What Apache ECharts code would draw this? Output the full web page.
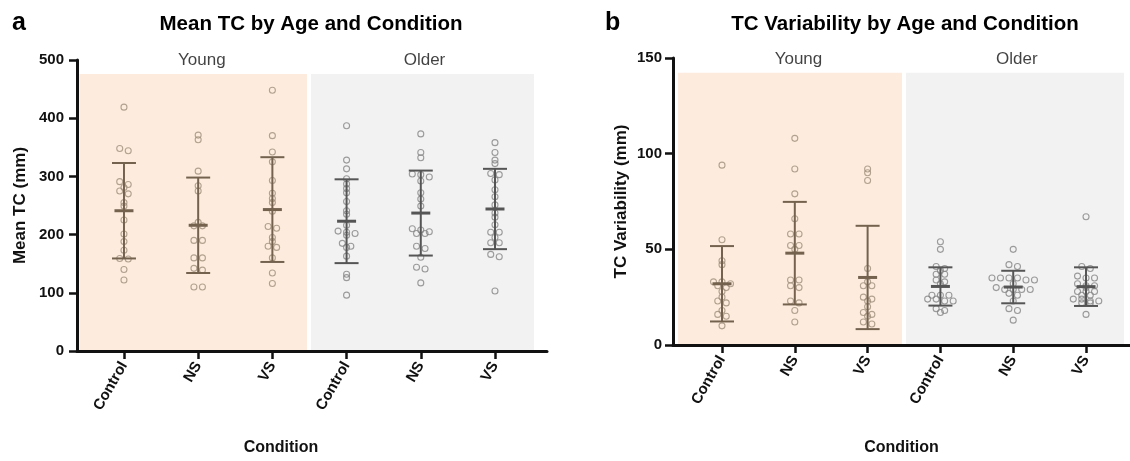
<!DOCTYPE html>
<html><head><meta charset="utf-8">
<script src="https://cdn.jsdelivr.net/npm/echarts@6/dist/echarts.min.js"></script>
<style>html,body{margin:0;padding:0;background:#fff}#c{width:1130px;height:461px}</style>
</head><body><div id="c"></div>
<script>
// ---------- data ----------
const categories = ['Control', 'NS', 'VS', 'Control', 'NS', 'VS'];
const ageGroups = ['Young', 'Older'];

// Panel a: Mean TC (mm), individual participants
const tcYoungControl = [419,348,344,291,286,281,275,270,255,249,225,201,188,173,159,158,140,122];
const tcYoungNS      = [371,363,309,284,275,221,215,215,190,190,160,160,142,139,110,110];
const tcYoungVS      = [448,370,342,325,293,271,262,255,240,214,211,195,188,180,178,160,134,116];
const tcOlderControl = [387,328,313,296,287,279,272,257,241,235,216,206,204,202,199,185,180,178,163,132,126,96];
const tcOlderNS      = [373,341,332,304,303,299,292,272,261,249,210,208,205,202,202,180,176,161,144,141,117];
const tcOlderVS      = [358,341,328,322,305,303,294,277,265,251,237,230,217,204,204,195,186,186,166,162,103];
const tcMean = [241, 216, 243, 223, 237, 244];
const tcSD   = [82, 82, 90, 72, 73, 69];

// Panel b: TC Variability (mm)
const varYoungControl = [94,55,44,42,33,33,32,31,30,28,25,23,22,18,16,15,10];
const varYoungNS      = [108,92,79,66,58,58,52,52,50,34,34,31,30,23,22,18,12];
const varYoungVS      = [92,90,86,40,33,31,31,25,24,23,20,17,16,15,12,11];
const varOlderControl = [54,50,41,40,39,37,37,34,33,32,26,26,26,24,24,23,23,19,18,17];
const varOlderNS      = [50,42,41,35,35,35,35,34,34,32,30,29,29,29,29,27,26,23,19,18,13];
const varOlderVS      = [67,41,40,36,35,35,32,31,31,30,28,28,28,26,26,24,24,23,23,22,22,16];
const varMean = [32, 48, 35.3, 30.6, 30.3, 30.5];
const varSD   = [19.7, 26.8, 27, 10, 8.5, 10.1];

const yTicksA = [0, 100, 200, 300, 400, 500];
const yTicksB = [0, 50, 100, 150];

// ---------- chart ----------
const W = 1130, H = 461;
const FONT = '"Liberation Sans", Arial, Helvetica, sans-serif';
const BLACK = '#111';
const COL = {
  youngBg: '#fdecdd', olderBg: '#f2f2f2',
  youngPt: '#a08e7c', olderPt: '#858585',
  youngBar: '#74624f', olderBar: '#555555'
};

const panels = [
  { grid: {left: 77, right: 583, top: 60, bottom: 103}, xMin: 0.367, xMax: 6.701,
    yTicks: yTicksA, yName: 'Mean TC (mm)', yNameGap: 48.5, labelMargin: 13, xNameGap: 89, xNamePad: [0, 62, 0, 0],
    bgTop: 476, bgXs: [[0.40, 3.466], [3.52, 6.526]],
    groups: [tcYoungControl, tcYoungNS, tcYoungVS, tcOlderControl, tcOlderNS, tcOlderVS],
    mean: tcMean, sd: tcSD },
  { grid: {left: 673, right: 0, top: 58, bottom: 109}, xMin: 0.327, xMax: 6.604,
    yTicks: yTicksB, yName: 'TC Variability (mm)', yNameGap: 43.5, labelMargin: 11, xNameGap: 95, xNamePad: [0, 0, 0, 0],
    bgTop: 142.3, bgXs: [[0.396, 3.473], [3.527, 6.522]],
    groups: [varYoungControl, varYoungNS, varYoungVS, varOlderControl, varOlderNS, varOlderVS],
    mean: varMean, sd: varSD }
];

// simple row-based beeswarm (jitter derived from values)
function swarm(vals, xc, pxPerX, pxPerY) {
  const sorted = vals.slice().sort((a, b) => b - a);
  const out = [];
  const binPx = 3.2, stepPx = 8.5;
  let i = 0;
  while (i < sorted.length) {
    const row = [sorted[i]];
    let j = i + 1;
    while (j < sorted.length && (sorted[i] - sorted[j]) * pxPerY < binPx) { row.push(sorted[j]); j++; }
    const n = row.length;
    row.forEach((v, k) => out.push([xc + (k - (n - 1) / 2) * stepPx / pxPerX, v]));
    i = j;
  }
  return out;
}

const xAxes = [], yAxes = [], grids = [], series = [];
panels.forEach((p, pi) => {
  const yMax = p.yTicks[p.yTicks.length - 1];
  const interval = p.yTicks[1] - p.yTicks[0];
  grids.push(p.grid);
  const gw = W - p.grid.left - p.grid.right, gh = H - p.grid.top - p.grid.bottom;
  const pxPerX = gw / (p.xMax - p.xMin), pxPerY = gh / yMax;
  xAxes.push({
    type: 'value', gridIndex: pi, min: p.xMin, max: p.xMax, z: 10,
    name: 'Condition', nameLocation: 'middle', nameGap: p.xNameGap,
    nameTextStyle: {fontFamily: FONT, fontSize: 16, fontWeight: 'bold', color: BLACK, padding: p.xNamePad},
    axisLine: {show: true, onZero: false, lineStyle: {color: BLACK, width: 3}},
    axisTick: {show: true, length: 8, lineStyle: {color: BLACK, width: 2.5}, customValues: [1,2,3,4,5,6]},
    axisLabel: {show: true, rotate: 60, margin: 12, fontFamily: FONT, fontSize: 15, fontWeight: 'bold', color: BLACK,
      customValues: [1,2,3,4,5,6], formatter: v => categories[Math.round(v) - 1] || ''},
    splitLine: {show: false}
  });
  yAxes.push({
    type: 'value', gridIndex: pi, min: 0, max: yMax, interval: interval, z: 10,
    name: p.yName, nameLocation: 'middle', nameGap: p.yNameGap,
    nameTextStyle: {fontFamily: FONT, fontSize: 17, fontWeight: 'bold', color: BLACK},
    axisLine: {show: true, lineStyle: {color: BLACK, width: 3}},
    axisTick: {show: true, length: 8, lineStyle: {color: BLACK, width: 2.5}},
    axisLabel: {margin: p.labelMargin, fontFamily: FONT, fontSize: 15, fontWeight: 'bold', color: BLACK},
    splitLine: {show: false}
  });
  // backgrounds + group labels
  series.push({
    type: 'scatter', xAxisIndex: pi, yAxisIndex: pi, z: 1, silent: true,
    symbolSize: 0,
    data: ageGroups.map((g, gi) => ({value: [2.05 + gi * 3, p.bgTop], name: g})),
    label: {show: true, position: 'top', distance: 5, formatter: '{b}', fontFamily: FONT, fontSize: 17, color: '#111'},
    markArea: {silent: true, data: [
      [{xAxis: p.bgXs[0][0], yAxis: 0, itemStyle: {color: COL.youngBg}}, {xAxis: p.bgXs[0][1], yAxis: p.bgTop}],
      [{xAxis: p.bgXs[1][0], yAxis: 0, itemStyle: {color: COL.olderBg}}, {xAxis: p.bgXs[1][1], yAxis: p.bgTop}]
    ]}
  });
  // points
  ageGroups.forEach((g, gi) => {
    let pts = [];
    for (let c = 0; c < 3; c++) {
      const idx = gi * 3 + c;
      pts = pts.concat(swarm(p.groups[idx], idx + 1, pxPerX, pxPerY));
    }
    series.push({
      type: 'scatter', xAxisIndex: pi, yAxisIndex: pi, z: 3, silent: true,
      symbol: 'circle', symbolSize: 6,
      itemStyle: {color: 'rgba(0,0,0,0)', borderColor: gi === 0 ? COL.youngPt : COL.olderPt, borderWidth: 1.1},
      data: pts
    });
  });
  // mean ± SD bars
  ageGroups.forEach((g, gi) => {
    const color = gi === 0 ? COL.youngBar : COL.olderBar;
    series.push({
      type: 'custom', xAxisIndex: pi, yAxisIndex: pi, z: 4, silent: true,
      data: [0, 1, 2].map(c => { const idx = gi * 3 + c; return [idx + 1, p.mean[idx], p.sd[idx]]; }),
      renderItem: (params, api) => {
        const x = api.value(0), m = api.value(1), s = api.value(2);
        const cm = api.coord([x, m]), ct = api.coord([x, m + s]), cb = api.coord([x, Math.max(0, m - s)]);
        const cap = 12, mh = 9.5;
        return {type: 'group', children: [
          {type: 'line', shape: {x1: cm[0], y1: ct[1], x2: cm[0], y2: cb[1]}, style: {stroke: color, lineWidth: 2}},
          {type: 'line', shape: {x1: cm[0] - cap, y1: ct[1], x2: cm[0] + cap, y2: ct[1]}, style: {stroke: color, lineWidth: 2}},
          {type: 'line', shape: {x1: cm[0] - cap, y1: cb[1], x2: cm[0] + cap, y2: cb[1]}, style: {stroke: color, lineWidth: 2}},
          {type: 'line', shape: {x1: cm[0] - mh, y1: cm[1], x2: cm[0] + mh, y2: cm[1]}, style: {stroke: color, lineWidth: 3}}
        ]};
      }
    });
  });
});

const chart = echarts.init(document.getElementById('c'), null, {renderer: 'canvas'});
chart.setOption({
  animation: false,
  backgroundColor: '#fff',
  grid: grids, xAxis: xAxes, yAxis: yAxes, series: series,
  graphic: [
    {type: 'text', x: 12, y: 23, style: {text: 'a', font: 'bold 25px ' + FONT, fill: '#000', textVerticalAlign: 'middle'}},
    {type: 'text', x: 311, y: 24, style: {text: 'Mean TC by Age and Condition', font: 'bold 20.5px ' + FONT, fill: '#000', textAlign: 'center', textVerticalAlign: 'middle'}},
    {type: 'text', x: 605, y: 23, style: {text: 'b', font: 'bold 25px ' + FONT, fill: '#000', textVerticalAlign: 'middle'}},
    {type: 'text', x: 905, y: 24, style: {text: 'TC Variability by Age and Condition', font: 'bold 20.5px ' + FONT, fill: '#000', textAlign: 'center', textVerticalAlign: 'middle'}}
  ]
});
</script></body></html>
